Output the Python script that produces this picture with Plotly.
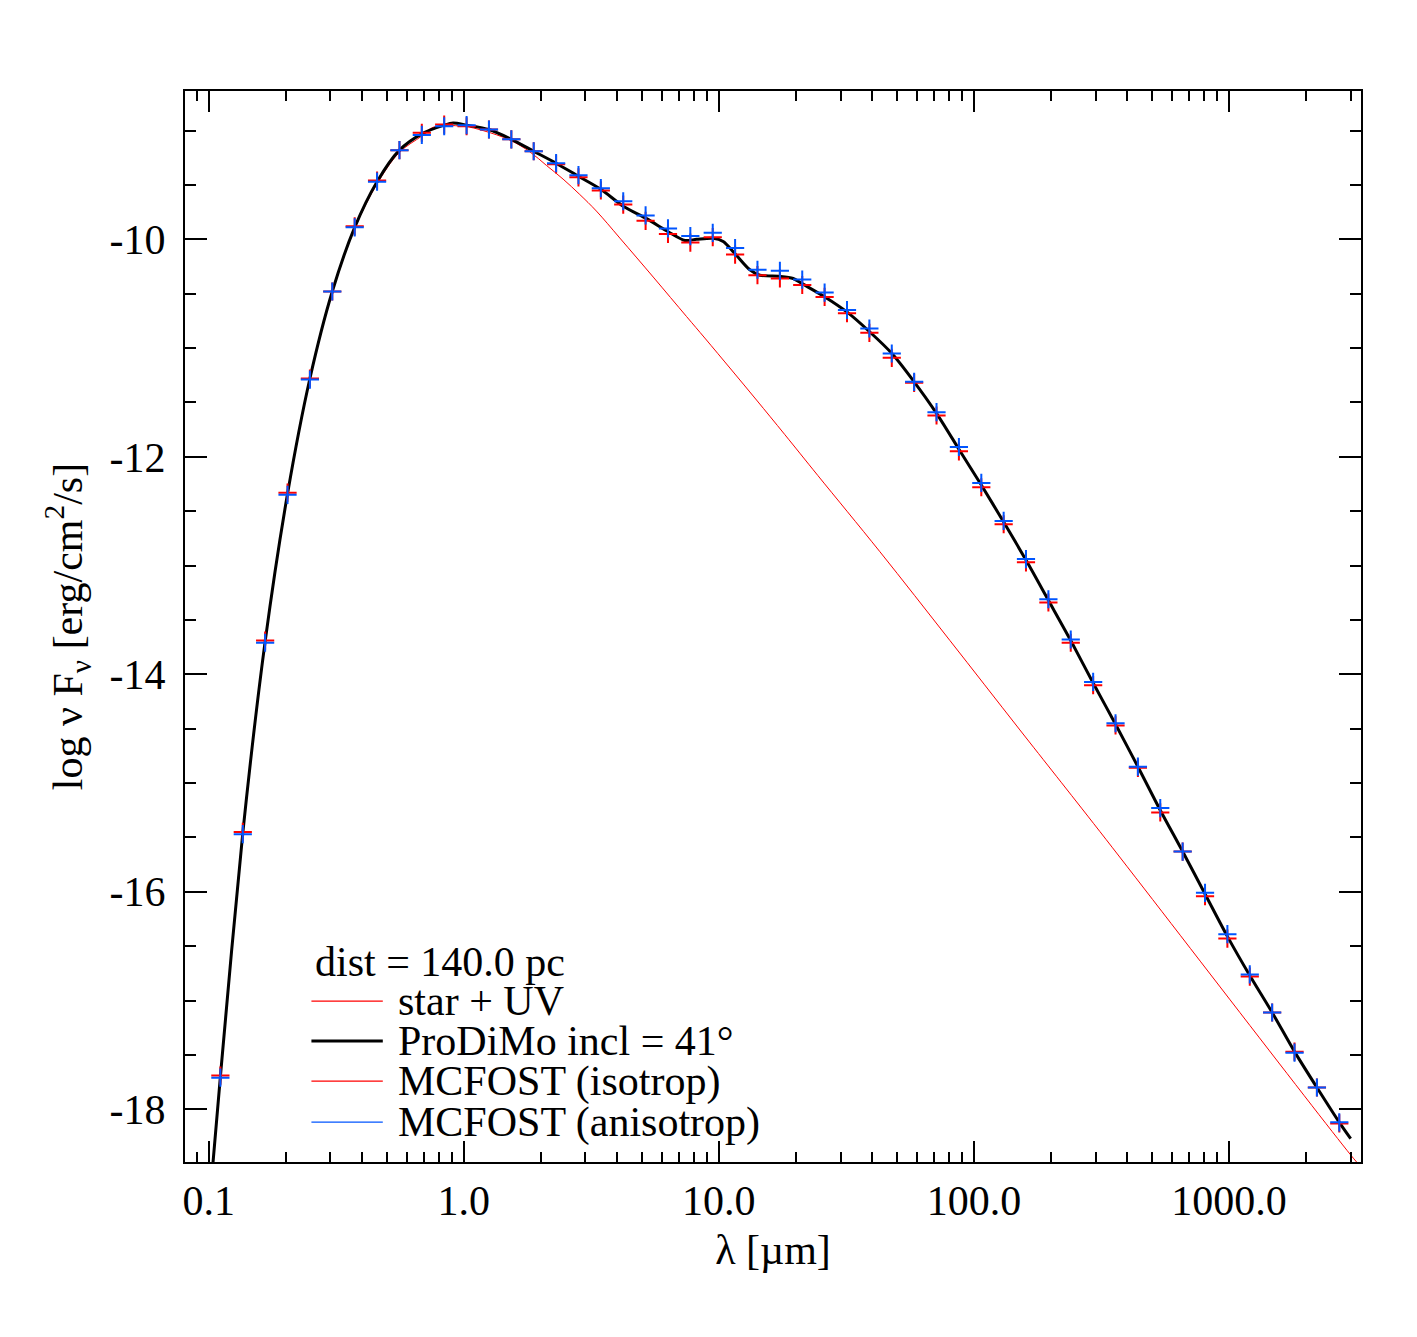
import plotly.graph_objects as go

# ---------------- data ----------------
# star + UV (thin red line)
lam_star = [0.100, 0.1111, 0.1360, 0.1664, 0.2037, 0.2493, 0.3051, 0.3735, 0.4571,
            0.5595, 0.6846, 0.758, 0.994, 1.19, 1.515, 1.815, 2.11, 2.45, 2.85, 3.31,
            4.09, 5.53, 7.47, 8.81, 11.22, 14.05, 18.1, 24.44, 42.8, 80.5, 151.5, 312.0,
            3073.0, 3293.0]
f_star = [-18.95, -17.70, -15.46, -13.70, -12.34, -11.28, -10.49, -9.90, -9.49,
          -9.20, -9.05, -8.97, -8.96, -9.00, -9.087, -9.195, -9.321, -9.446, -9.588, -9.740,
          -9.988, -10.347, -10.710, -10.908, -11.202, -11.478, -11.793, -12.172, -12.873,
          -13.689, -14.512, -15.447, -18.45, -18.53]

# ProDiMo incl = 41 deg (thick black line)
lam_prodimo = [0.100, 0.1111, 0.1360, 0.1664, 0.2037, 0.2493, 0.3051, 0.3735, 0.4571,
               0.5595, 0.6846, 0.8379, 0.908, 1.0256, 1.2550, 1.5362, 1.880, 2.301,
               2.816, 3.446, 4.218, 5.21, 6.33, 7.36, 8.18, 9.50, 10.40, 11.55, 13.23,
               14.48, 17.35, 19.56, 21.29, 26.05, 31.85, 38.99, 47.70, 58.30, 71.35,
               87.33, 106.9, 130.8, 160.0, 195.9, 239.7, 293.4, 359.1, 439.5, 537.8,
               658.2, 805.6, 985.8, 1206.6, 1476.6, 1807.0, 2212.0, 2707.0, 3000.0]
f_prodimo = [-18.95, -17.70, -15.46, -13.70, -12.34, -11.28, -10.48, -9.89, -9.47,
             -9.18, -9.03, -8.95, -8.93, -8.95, -8.99, -9.08, -9.19, -9.30,
             -9.42, -9.54, -9.695, -9.81, -9.93, -10.01, -10.00, -9.99, -10.02, -10.13, -10.28,
             -10.33, -10.34, -10.36, -10.41, -10.53, -10.67, -10.85, -11.05, -11.31, -11.60,
             -11.93, -12.26, -12.60, -12.95, -13.32, -13.69, -14.08, -14.46, -14.85, -15.25,
             -15.63, -16.02, -16.41, -16.77, -17.11, -17.47, -17.80, -18.12, -18.27]

# MCFOST wavelengths (crosses)
lam_mcfost = [0.1111, 0.1360, 0.1664, 0.2037, 0.2493, 0.3051, 0.3735, 0.4571, 0.5595,
              0.6846, 0.8379, 1.0256, 1.2550, 1.5362, 1.880, 2.301, 2.816, 3.446,
              4.218, 5.162, 6.318, 7.731, 9.463, 11.58, 14.17, 17.35, 21.23, 25.98,
              31.80, 38.92, 47.64, 58.30, 71.35, 87.33, 106.9, 130.8, 160.0, 195.9,
              239.7, 293.4, 359.1, 439.5, 537.8, 658.2, 805.6, 985.8, 1206.6, 1476.6,
              1807.0, 2212.0, 2707.0]
f_iso = [-17.69, -15.45, -13.69, -12.33, -11.28, -10.48, -9.88, -9.46, -9.18,
         -9.02, -8.945, -8.96, -8.99, -9.08, -9.19, -9.31, -9.43, -9.55,
         -9.68, -9.83, -9.95, -10.03, -9.98, -10.14, -10.33, -10.36, -10.42, -10.53,
         -10.68, -10.86, -11.09, -11.32, -11.62, -11.95, -12.28, -12.62, -12.97, -13.34,
         -13.71, -14.10, -14.47, -14.86, -15.27, -15.63, -16.04, -16.43, -16.78, -17.11,
         -17.47, -17.80, -18.13]
f_aniso = [-17.71, -15.47, -13.71, -12.35, -11.29, -10.48, -9.89, -9.47, -9.18,
           -9.04, -8.96, -8.95, -8.99, -9.08, -9.19, -9.30, -9.41, -9.53,
           -9.65, -9.78, -9.90, -9.97, -9.94, -10.08, -10.28, -10.29, -10.37, -10.49,
           -10.65, -10.82, -11.05, -11.31, -11.59, -11.91, -12.24, -12.59, -12.94, -13.31,
           -13.68, -14.07, -14.45, -14.85, -15.23, -15.63, -16.01, -16.39, -16.76, -17.11,
           -17.48, -17.80, -18.12]

x_tickvals = [0.1, 1.0, 10.0, 100.0, 1000.0]
x_ticktext = ["0.1", "1.0", "10.0", "100.0", "1000.0"]
y_tickvals = [-10, -12, -14, -16, -18]
y_ticktext = ["-10", "-12", "-14", "-16", "-18"]

legend_title = "dist = 140.0 pc"
legend_names = ["star + UV", "ProDiMo incl = 41°", "MCFOST (isotrop)", "MCFOST (anisotrop)"]
legend_colors = ["#ff0000", "#000000", "#ff0000", "#0055ff"]
legend_widths = [1.2, 3, 1.2, 1.2]

# ---------------- figure ----------------
FONT = "Liberation Serif"
RED = "#ff0000"
BLUE = "#0055ff"

fig = go.Figure()
fig.add_trace(go.Scatter(x=lam_star, y=f_star, mode="lines",
                         line=dict(color=RED, width=1, shape="spline", smoothing=1.0),
                         showlegend=False))
fig.add_trace(go.Scatter(x=lam_prodimo, y=f_prodimo, mode="lines",
                         line=dict(color="black", width=3, shape="spline", smoothing=0.8),
                         showlegend=False))
fig.add_trace(go.Scatter(x=lam_mcfost, y=f_iso, mode="markers",
                         marker=dict(symbol="cross-thin", size=13, color=RED,
                                     line=dict(color=RED, width=2)),
                         showlegend=False))
fig.add_trace(go.Scatter(x=lam_mcfost, y=f_aniso, mode="markers",
                         marker=dict(symbol="cross-thin", size=13, color=BLUE,
                                     line=dict(color=BLUE, width=2)),
                         showlegend=False))

minor_x = [m * 10 ** e for e in range(-2, 4) for m in range(2, 10)]

axis_common = dict(
    showline=True, linecolor="black", linewidth=2, mirror="allticks",
    ticks="inside", tickwidth=1.5, tickcolor="black",
    showgrid=False, zeroline=False,
    tickfont=dict(family=FONT, size=42, color="black"),
)

fig.update_xaxes(
    type="log", range=[-1.093, 3.5176],
    tickvals=x_tickvals, ticktext=x_ticktext, ticklen=21,
    ticklabelstandoff=1,
    minor=dict(ticks="inside", ticklen=10, tickwidth=1.5, tickcolor="black",
               tickvals=minor_x, showgrid=False),
    title=dict(text="λ [µm]", font=dict(family=FONT, size=42, color="black"), standoff=11),
    **axis_common,
)
fig.update_yaxes(
    range=[-18.485, -8.636],
    tickvals=y_tickvals, ticktext=y_ticktext, ticklen=22,
    ticklabelstandoff=9,
    minor=dict(ticks="inside", ticklen=11, tickwidth=1.5, tickcolor="black",
               dtick=0.5, tick0=-10, showgrid=False),
    title=dict(text="log ν F<sub>ν</sub> [erg/cm<sup>2</sup>/s]",
               font=dict(family=FONT, size=42, color="black"), standoff=14),
    **axis_common,
)

# custom legend (drawn in paper coordinates)
row_y = [0.1503, 0.1130, 0.0756, 0.0373]
annotations = [dict(x=0.1086, y=0.1870, xref="paper", yref="paper", text=legend_title,
                    showarrow=False, xanchor="left", yanchor="middle",
                    font=dict(family=FONT, size=42, color="black"))]
shapes = []
for name, col, w, yy in zip(legend_names, legend_colors, legend_widths, row_y):
    shapes.append(dict(type="line", xref="paper", yref="paper", x0=0.1075, x1=0.1682,
                       y0=yy, y1=yy, line=dict(color=col, width=w)))
    annotations.append(dict(x=0.1795, y=yy, xref="paper", yref="paper", text=name,
                            showarrow=False, xanchor="left", yanchor="middle",
                            font=dict(family=FONT, size=42, color="black")))

fig.update_layout(
    width=1417, height=1337,
    margin=dict(l=185, r=56, t=91, b=175),
    paper_bgcolor="white", plot_bgcolor="white",
    showlegend=False,
    annotations=annotations, shapes=shapes,
)

fig.write_html("out.html")
